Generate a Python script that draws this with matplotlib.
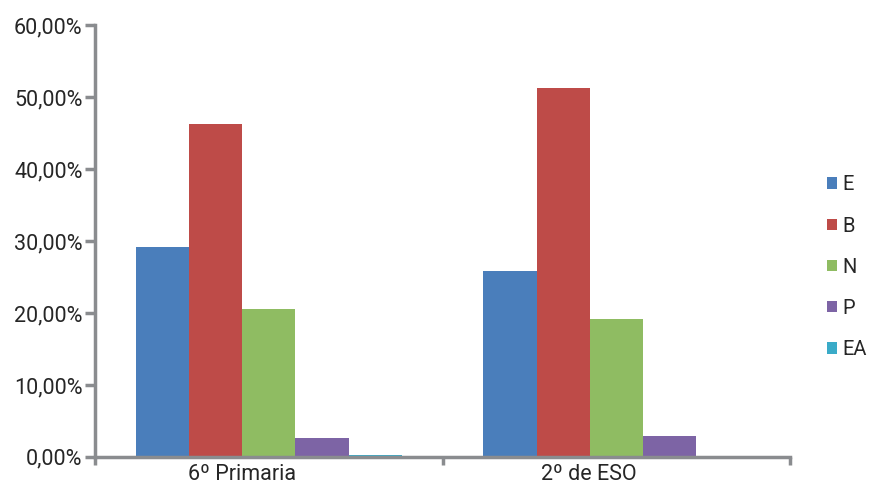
import numpy as np
import matplotlib.pyplot as plt
import matplotlib.transforms as mtransforms
from matplotlib.ticker import FuncFormatter

plt.rcParams['font.family'] = ['Roboto', 'DejaVu Sans']

# porcentajes por curso
groups = ['6º Primaria', '2º de ESO']
series = ['E', 'B', 'N', 'P', 'EA']
E = [29.2, 25.8]
B = [46.3, 51.3]
N = [20.6, 19.2]
P = [2.6, 2.9]
EA = [0.2, 0.0]
values = [E, B, N, P, EA]
colors = ['#4a7ebb', '#be4b48', '#8fbc62', '#7d64a5', '#3aabc8']

axis_col = '#8a8c8f'
txt_col = '#262626'

fig = plt.figure(figsize=(8.72, 4.84), dpi=100)
ax = fig.add_axes([0.109, 0.056, 0.797, 0.892])

x = np.arange(len(groups))
w = 0.153
for i, (name, vals) in enumerate(zip(series, values)):
    ax.bar(x + (i - 2) * w, vals, w, color=colors[i], label=name)

ax.set_xlim(-0.5, 1.5)
ax.set_ylim(0, 60)
ax.set_yticks(np.arange(0, 61, 10))
ax.yaxis.set_major_formatter(FuncFormatter(lambda v, p: f'{v:.2f}%'.replace('.', ',')))

ax.set_xticks(x)
ax.set_xticklabels(groups)
ax.set_xticks([-0.5, 0.5, 1.5], minor=True)
ax.tick_params(axis='x', which='major', length=0, labelsize=15.5, colors=txt_col, pad=5)
ax.tick_params(axis='x', which='minor', length=6, width=2.5, color=axis_col)
ax.tick_params(axis='y', length=7, width=2.5, color=axis_col, labelsize=15.5,
               labelcolor=txt_col, pad=2)

# etiquetas del eje x algo desplazadas a la izquierda, como en el original
shift = mtransforms.ScaledTranslation(-0.27, 0, fig.dpi_scale_trans)
for lab in ax.get_xticklabels():
    lab.set_transform(lab.get_transform() + shift)

for s in ['top', 'right']:
    ax.spines[s].set_visible(False)
for s in ['left', 'bottom']:
    ax.spines[s].set_color(axis_col)
    ax.spines[s].set_linewidth(2.5)

leg = fig.legend(loc='center left', bbox_to_anchor=(0.948, 0.448), frameon=False,
                 fontsize=14.5, handlelength=0.5, handleheight=0.5, handletextpad=0.3,
                 labelspacing=1.1, borderaxespad=0, borderpad=0)
for t in leg.get_texts():
    t.set_color(txt_col)

fig.savefig('out.png', dpi=100)
